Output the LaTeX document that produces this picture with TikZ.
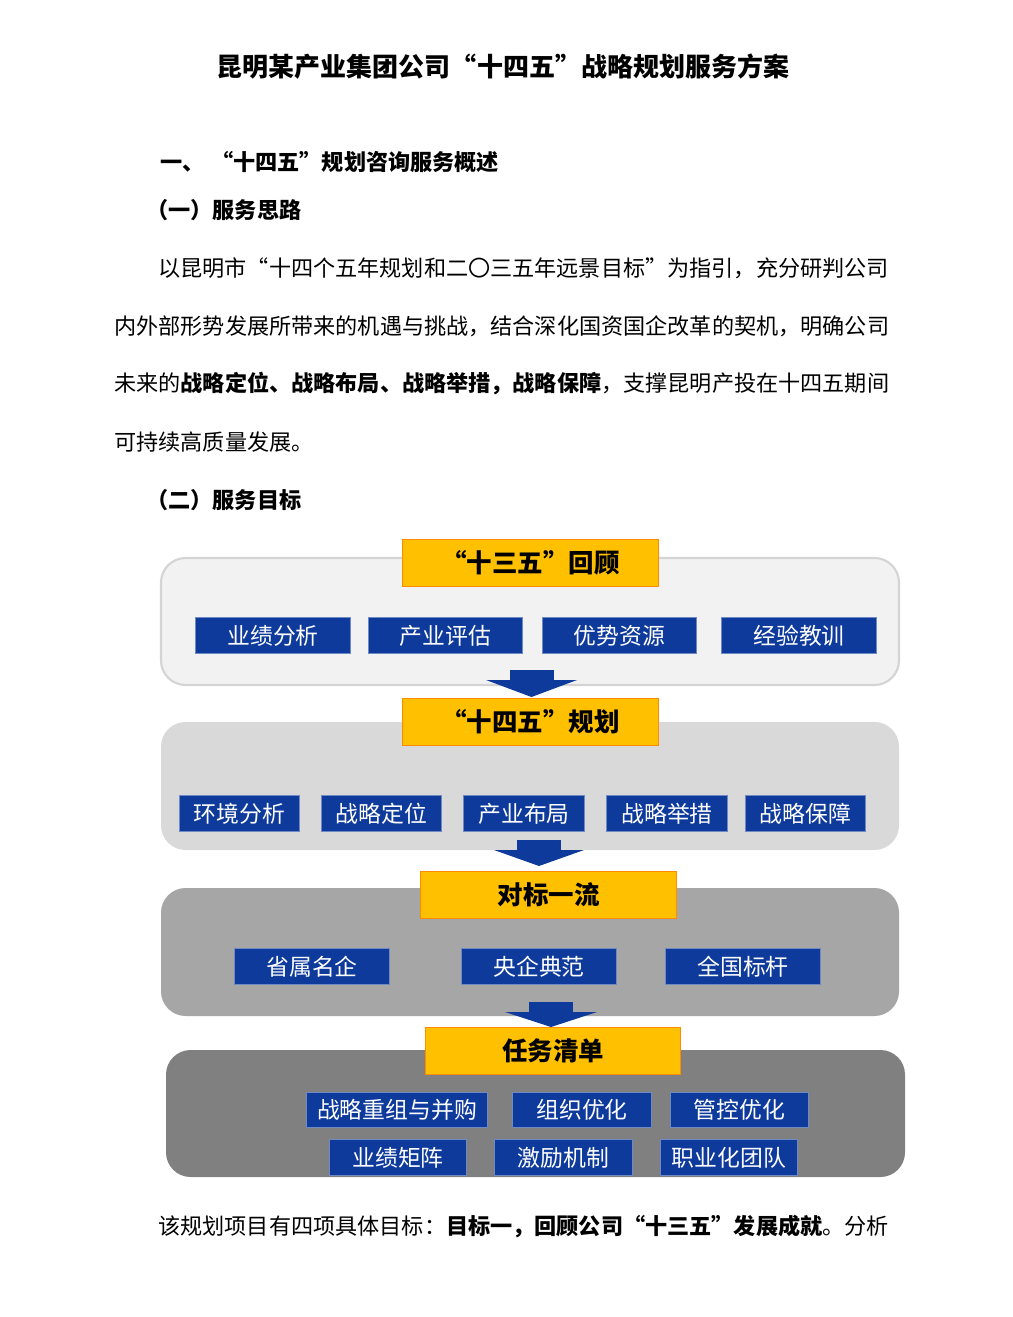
\documentclass[tikz,border=0pt]{standalone}
\usepackage{fontspec}
\setmainfont{Noto Sans CJK SC}
\usetikzlibrary{shapes.arrows}
\definecolor{yel}{HTML}{FFC000}
\definecolor{dblue}{HTML}{0E3A9C}
\tikzset{
 px/.style={x=0.02cm,y=-0.02cm},
 panel/.style={rounded corners=14pt,line width=1.2pt},
 ylab/.style={fill=yel,draw=orange!90!yellow,line width=0.6pt},
 bbox/.style={fill=dblue,draw=dblue!60,line width=0.6pt},
 btxt/.style={text=white,font=\fontsize{13}{15}\selectfont},
 ytxt/.style={font=\fontsize{14.5}{16}\selectfont\bfseries},
 body/.style={anchor=west,inner sep=0pt,font=\fontsize{12.6}{14}\selectfont},
 darr/.style={fill=dblue,draw=none}
}
\newcommand{\bx}[6]{\node[bbox,minimum width=#3*0.02cm-#2*0.02cm,minimum height=#5*0.02cm-#4*0.02cm,anchor=north west,inner sep=0pt,btxt] (#6) at (#2,#4) {#1};}
\newcommand{\yl}[6]{\node[ylab,minimum width=#3*0.02cm-#2*0.02cm,minimum height=#5*0.02cm-#4*0.02cm,anchor=north west,inner sep=0pt,ytxt] (#6) at (#2,#4) {#1};}
\newcommand{\dar}[4]{\fill[darr] (#1,#3) -- (#2,#3) -- ({(#1+#2)/2},#4) -- cycle; \fill[darr] ({(#1+#2)/2-22},{#3-10}) rectangle ({(#1+#2)/2+22},#3);}
\begin{document}
\begin{tikzpicture}[px]
\useasboundingbox[fill=white] (0,0) rectangle (1012,1317);
\node[font=\fontsize{14.8}{16}\selectfont\bfseries] (title) at (503,67) {昆明某产业集团公司“十四五”战略规划服务方案};
\node[body,font=\fontsize{12.6}{14}\selectfont\bfseries] (h1) at (160,162) {一、\hspace{0.3em}“十四五”规划咨询服务概述};
\node[body,font=\fontsize{12.6}{14}\selectfont\bfseries] (h2) at (146,210) {（一）服务思路};
\node[body] (p1) at (158,268) {以昆明市“十四个五年规划和二〇三五年远景目标”为指引，充分研判公司};
\node[body] (p2) at (114,326) {内外部形势发展所带来的机遇与挑战，结合深化国资国企改革的契机，明确公司};
\node[body] (p3) at (114,384) {未来的\textbf{战略定位、战略布局、战略举措，战略保障}，支撑昆明产投在十四五期间};
\node[body] (p4) at (114,442) {可持续高质量发展。};
\node[body,font=\fontsize{12.6}{14}\selectfont\bfseries] (h3) at (146,500) {（二）服务目标};
% panel 1
\draw[panel,fill=black!5,draw=black!17] (161,558) rectangle (899,685);
\yl{“十三五”回顾}{402}{658}{539}{586}{y1}
\bx{业绩分析}{195}{350}{617}{653}{a1}
\bx{产业评估}{368}{522}{617}{653}{a2}
\bx{优势资源}{542}{696}{617}{653}{a3}
\bx{经验教训}{721}{876}{617}{653}{a4}
% panel 2
\draw[panel,fill=black!15,draw=none] (161,722) rectangle (899,850);
\dar{486}{577}{680}{697}
\yl{“十四五”规划}{402}{658}{698}{745}{y2}
\bx{环境分析}{179}{299}{795}{831}{b1}
\bx{战略定位}{321}{441}{795}{831}{b2}
\bx{产业布局}{463}{584}{795}{831}{b3}
\bx{战略举措}{606}{727}{795}{831}{b4}
\bx{战略保障}{745}{865}{795}{831}{b5}
% panel 3
\draw[panel,fill=black!35,draw=none] (161,888) rectangle (899,1016);
\dar{494}{584}{850}{866}
\yl{对标一流}{420}{676}{871}{918}{y3}
\bx{省属名企}{234}{389}{948}{984}{c1}
\bx{央企典范}{461}{616}{948}{984}{c2}
\bx{全国标杆}{665}{820}{948}{984}{c3}
% panel 4
\draw[panel,fill=black!50,draw=none] (166,1050) rectangle (905,1177);
\dar{505}{597}{1012}{1027}
\yl{任务清单}{425}{680}{1027}{1074}{y4}
\bx{战略重组与并购}{306}{487}{1092}{1127}{d1}
\bx{组织优化}{512}{651}{1092}{1127}{d2}
\bx{管控优化}{670}{808}{1092}{1127}{d3}
\bx{业绩矩阵}{329}{466}{1139}{1175}{d4}
\bx{激励机制}{494}{632}{1139}{1175}{d5}
\bx{职业化团队}{660}{797}{1139}{1175}{d6}
\node[body] (p5) at (158,1227) {该规划项目有四项具体目标：\textbf{目标一，回顾公司“十三五”发展成就}。分析};
\end{tikzpicture}
\end{document}
